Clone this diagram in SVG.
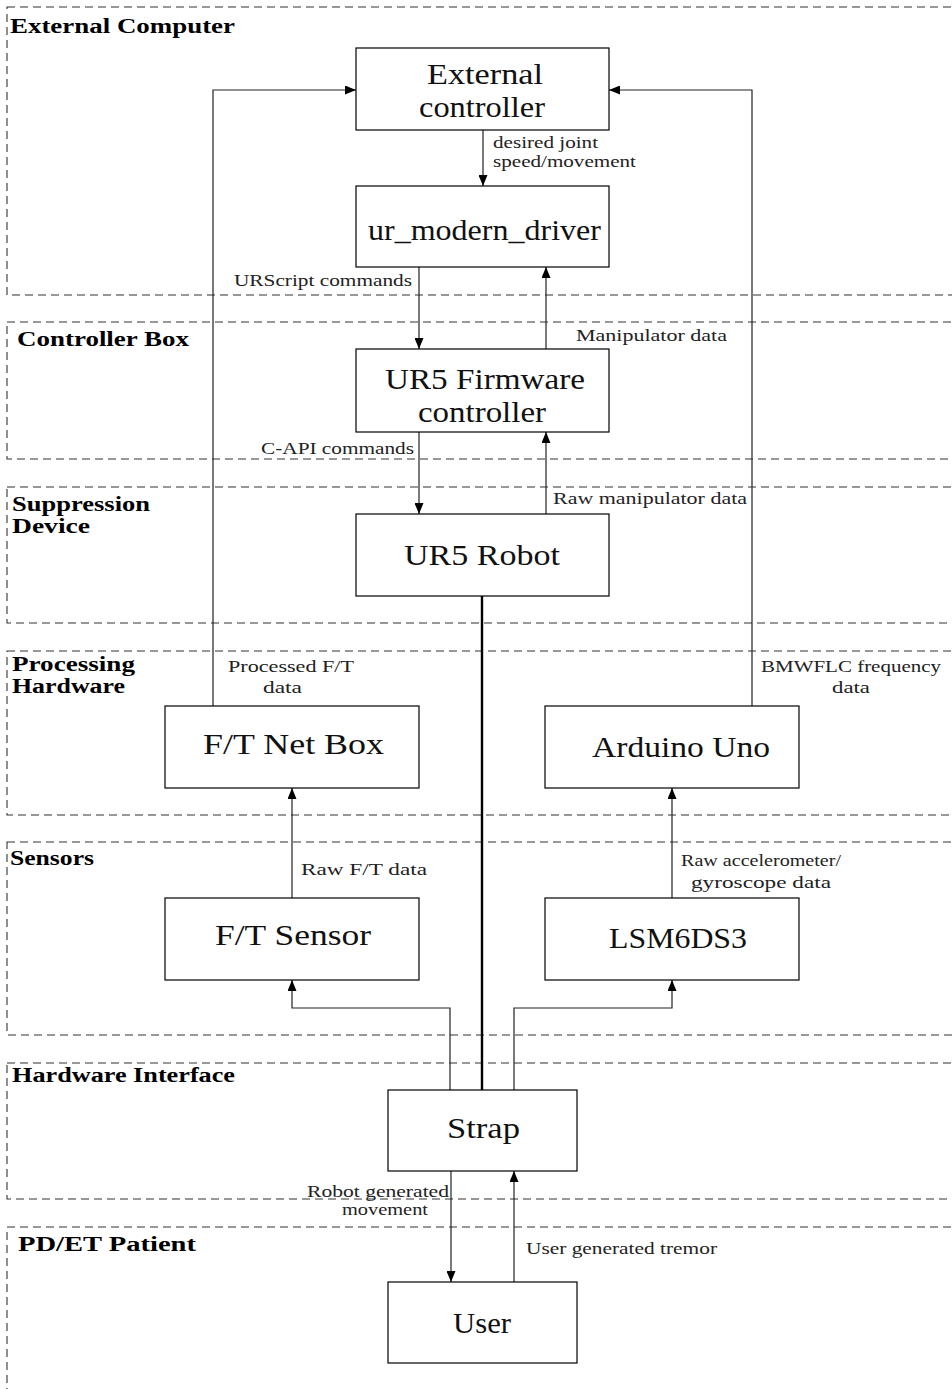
<svg xmlns="http://www.w3.org/2000/svg" width="952" height="1389" viewBox="0 0 952 1389">
<style>
.bg{fill:#fff}
.region{fill:none;stroke:#333;stroke-width:1.1;stroke-dasharray:8 5}
.rl{font-family:"Liberation Serif","Times New Roman",serif;font-weight:bold;font-size:20px;fill:#000}
.box{fill:#fff;stroke:#000;stroke-width:1.2}
.nt{font-family:"Liberation Serif","Times New Roman",serif;font-size:29px;fill:#111}
.el{font-family:"Liberation Serif","Times New Roman",serif;font-size:17px;fill:#222}
.c{fill:none;stroke:#222;stroke-width:1.2}
.thick{fill:none;stroke:#000;stroke-width:2.4}
</style>
<defs>
<marker id="ah" markerUnits="userSpaceOnUse" markerWidth="11" markerHeight="9" refX="11" refY="4.5" orient="auto">
<path d="M0,0 L11,4.5 L0,9 z" fill="#000"/>
</marker>
</defs>
<rect class="bg" x="0" y="0" width="952" height="1389"/>

<g id="regions">
<g id="region-external-computer"><rect class="region" x="7" y="7" width="1000" height="288"/>
<text class="rl" x="10" y="33" textLength="225" lengthAdjust="spacingAndGlyphs">External Computer</text></g>
<g id="region-controller-box"><rect class="region" x="7" y="322" width="1000" height="137"/>
<text class="rl" x="17" y="346" textLength="172" lengthAdjust="spacingAndGlyphs">Controller Box</text></g>
<g id="region-suppression-device"><rect class="region" x="7" y="487" width="1000" height="136"/>
<text class="rl" x="12" y="511" textLength="138" lengthAdjust="spacingAndGlyphs">Suppression</text>
<text class="rl" x="12" y="533" textLength="78" lengthAdjust="spacingAndGlyphs">Device</text></g>
<g id="region-processing-hardware"><rect class="region" x="7" y="651" width="1000" height="164"/>
<text class="rl" x="12" y="671" textLength="123" lengthAdjust="spacingAndGlyphs">Processing</text>
<text class="rl" x="12" y="693" textLength="113" lengthAdjust="spacingAndGlyphs">Hardware</text></g>
<g id="region-sensors"><rect class="region" x="7" y="842" width="1000" height="193"/>
<text class="rl" x="10" y="865" textLength="84" lengthAdjust="spacingAndGlyphs">Sensors</text></g>
<g id="region-hardware-interface"><rect class="region" x="7" y="1063" width="1000" height="136"/>
<text class="rl" x="12" y="1082" textLength="223" lengthAdjust="spacingAndGlyphs">Hardware Interface</text></g>
<g id="region-patient"><rect class="region" x="7" y="1227" width="1000" height="300"/>
<text class="rl" x="18" y="1251" textLength="178" lengthAdjust="spacingAndGlyphs">PD/ET Patient</text></g>
</g>

<g id="connectors">
<line class="c" x1="483" y1="130" x2="483" y2="186" marker-end="url(#ah)"/>
<line class="c" x1="419" y1="267" x2="419" y2="349" marker-end="url(#ah)"/>
<line class="c" x1="546" y1="349" x2="546" y2="267" marker-end="url(#ah)"/>
<line class="c" x1="419" y1="432" x2="419" y2="514" marker-end="url(#ah)"/>
<line class="c" x1="546" y1="514" x2="546" y2="432" marker-end="url(#ah)"/>
<line class="thick" x1="482" y1="596" x2="482" y2="1090"/>
<path class="c" d="M213,706 V90 H356" marker-end="url(#ah)"/>
<path class="c" d="M752,706 V90 H609" marker-end="url(#ah)"/>
<line class="c" x1="292" y1="898" x2="292" y2="788" marker-end="url(#ah)"/>
<line class="c" x1="672" y1="898" x2="672" y2="788" marker-end="url(#ah)"/>
<path class="c" d="M450,1090 V1008 H292 V980" marker-end="url(#ah)"/>
<path class="c" d="M514,1090 V1008 H672 V980" marker-end="url(#ah)"/>
<line class="c" x1="451" y1="1171" x2="451" y2="1282" marker-end="url(#ah)"/>
<line class="c" x1="514" y1="1282" x2="514" y2="1171" marker-end="url(#ah)"/>

<text class="el" x="493" y="148" textLength="105" lengthAdjust="spacingAndGlyphs">desired joint</text>
<text class="el" x="493" y="167" textLength="143" lengthAdjust="spacingAndGlyphs">speed/movement</text>
<text class="el" x="234" y="286" textLength="178" lengthAdjust="spacingAndGlyphs">URScript commands</text>
<text class="el" x="576" y="341" textLength="151" lengthAdjust="spacingAndGlyphs">Manipulator data</text>
<text class="el" x="261" y="454" textLength="153" lengthAdjust="spacingAndGlyphs">C-API commands</text>
<text class="el" x="553" y="504" textLength="194" lengthAdjust="spacingAndGlyphs">Raw manipulator data</text>
<text class="el" x="228" y="672" textLength="126" lengthAdjust="spacingAndGlyphs">Processed F/T</text>
<text class="el" x="263" y="693" textLength="39" lengthAdjust="spacingAndGlyphs">data</text>
<text class="el" x="761" y="672" textLength="180" lengthAdjust="spacingAndGlyphs">BMWFLC frequency</text>
<text class="el" x="832" y="693" textLength="38" lengthAdjust="spacingAndGlyphs">data</text>
<text class="el" x="301" y="875" textLength="126" lengthAdjust="spacingAndGlyphs">Raw F/T data</text>
<text class="el" x="681" y="866" textLength="160" lengthAdjust="spacingAndGlyphs">Raw accelerometer/</text>
<text class="el" x="691" y="888" textLength="140" lengthAdjust="spacingAndGlyphs">gyroscope data</text>
<text class="el" x="307" y="1197" textLength="142" lengthAdjust="spacingAndGlyphs">Robot generated</text>
<text class="el" x="342" y="1215" textLength="86" lengthAdjust="spacingAndGlyphs">movement</text>
<text class="el" x="526" y="1254" textLength="191" lengthAdjust="spacingAndGlyphs">User generated tremor</text>
</g>

<g id="node-external-controller"><rect class="box" x="356" y="48" width="253" height="82"/>
<text class="nt" x="427" y="84" textLength="116" lengthAdjust="spacingAndGlyphs">External</text>
<text class="nt" x="419" y="117" textLength="126" lengthAdjust="spacingAndGlyphs">controller</text></g>
<g id="node-ur-modern-driver"><rect class="box" x="356" y="186" width="253" height="81"/>
<text class="nt" x="368" y="240" textLength="233" lengthAdjust="spacingAndGlyphs">ur_modern_driver</text></g>
<g id="node-ur5-firmware"><rect class="box" x="356" y="349" width="253" height="83"/>
<text class="nt" x="385" y="389" textLength="200" lengthAdjust="spacingAndGlyphs">UR5 Firmware</text>
<text class="nt" x="418" y="422" textLength="128" lengthAdjust="spacingAndGlyphs">controller</text></g>
<g id="node-ur5-robot"><rect class="box" x="356" y="514" width="253" height="82"/>
<text class="nt" x="404" y="565" textLength="156" lengthAdjust="spacingAndGlyphs">UR5 Robot</text></g>
<g id="node-ft-net-box"><rect class="box" x="165" y="706" width="254" height="82"/>
<text class="nt" x="203" y="754" textLength="181" lengthAdjust="spacingAndGlyphs">F/T Net Box</text></g>
<g id="node-arduino-uno"><rect class="box" x="545" y="706" width="254" height="82"/>
<text class="nt" x="592" y="757" textLength="178" lengthAdjust="spacingAndGlyphs">Arduino Uno</text></g>
<g id="node-ft-sensor"><rect class="box" x="165" y="898" width="254" height="82"/>
<text class="nt" x="215" y="945" textLength="156" lengthAdjust="spacingAndGlyphs">F/T Sensor</text></g>
<g id="node-lsm6ds3"><rect class="box" x="545" y="898" width="254" height="82"/>
<text class="nt" x="609" y="948" textLength="138" lengthAdjust="spacingAndGlyphs">LSM6DS3</text></g>
<g id="node-strap"><rect class="box" x="388" y="1090" width="189" height="81"/>
<text class="nt" x="447" y="1138" textLength="73" lengthAdjust="spacingAndGlyphs">Strap</text></g>
<g id="node-user"><rect class="box" x="388" y="1282" width="189" height="81"/>
<text class="nt" x="453" y="1333" textLength="58" lengthAdjust="spacingAndGlyphs">User</text></g>
</svg>
